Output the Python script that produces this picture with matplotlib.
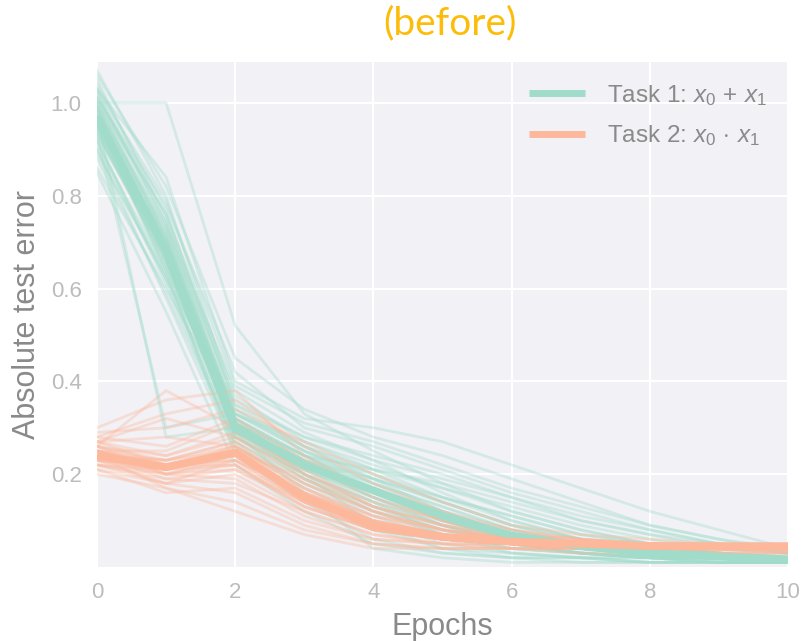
import matplotlib
matplotlib.use("Agg")
import matplotlib.pyplot as plt
import numpy as np

epochs = [0, 1, 2, 3, 4, 5, 6, 7, 8, 9, 10]

task1_runs = [
    [1.00, 1.00, 0.52, 0.33, 0.25, 0.18, 0.12, 0.08, 0.05, 0.04, 0.03],
    [1.07, 0.80, 0.35, 0.26, 0.19, 0.12, 0.07, 0.04, 0.03, 0.02, 0.02],
    [1.05, 0.75, 0.32, 0.24, 0.17, 0.10, 0.06, 0.04, 0.03, 0.02, 0.02],
    [1.03, 0.84, 0.40, 0.32, 0.30, 0.27, 0.22, 0.17, 0.12, 0.08, 0.04],
    [0.98, 0.70, 0.30, 0.22, 0.15, 0.09, 0.05, 0.03, 0.02, 0.02, 0.01],
    [0.95, 0.66, 0.28, 0.20, 0.13, 0.08, 0.05, 0.03, 0.02, 0.02, 0.01],
    [0.92, 0.62, 0.27, 0.18, 0.11, 0.06, 0.04, 0.03, 0.02, 0.01, 0.01],
    [0.90, 0.58, 0.25, 0.15, 0.08, 0.04, 0.03, 0.02, 0.02, 0.01, 0.01],
    [0.85, 0.55, 0.22, 0.12, 0.05, 0.03, 0.02, 0.02, 0.01, 0.01, 0.01],
    [0.86, 0.60, 0.33, 0.27, 0.22, 0.17, 0.12, 0.08, 0.05, 0.03, 0.02],
    [0.97, 0.28, 0.30, 0.22, 0.16, 0.11, 0.07, 0.04, 0.03, 0.02, 0.02],
    [0.93, 0.30, 0.33, 0.25, 0.19, 0.14, 0.09, 0.06, 0.04, 0.03, 0.02],
    [1.01, 0.78, 0.42, 0.30, 0.26, 0.21, 0.16, 0.12, 0.08, 0.05, 0.03],
    [0.99, 0.73, 0.36, 0.28, 0.24, 0.20, 0.15, 0.10, 0.07, 0.04, 0.03],
    [0.96, 0.71, 0.31, 0.23, 0.18, 0.13, 0.08, 0.05, 0.04, 0.03, 0.02],
    [0.94, 0.68, 0.29, 0.21, 0.14, 0.07, 0.03, 0.02, 0.02, 0.01, 0.01],
    [1.04, 0.77, 0.34, 0.25, 0.20, 0.15, 0.11, 0.07, 0.05, 0.03, 0.02],
    [0.91, 0.64, 0.31, 0.24, 0.21, 0.18, 0.14, 0.10, 0.07, 0.05, 0.03],
    [0.89, 0.63, 0.26, 0.17, 0.10, 0.05, 0.03, 0.02, 0.01, 0.01, 0.01],
    [0.97, 0.69, 0.30, 0.19, 0.12, 0.07, 0.04, 0.03, 0.02, 0.02, 0.02],
    [1.02, 0.74, 0.38, 0.29, 0.23, 0.16, 0.10, 0.06, 0.04, 0.03, 0.02],
    [0.95, 0.65, 0.29, 0.16, 0.04, 0.02, 0.01, 0.01, 0.01, 0.01, 0.01],
    [0.98, 0.72, 0.33, 0.26, 0.20, 0.14, 0.09, 0.05, 0.03, 0.02, 0.02],
    [0.93, 0.67, 0.31, 0.22, 0.17, 0.12, 0.07, 0.05, 0.03, 0.02, 0.02],
    [1.06, 0.82, 0.45, 0.34, 0.28, 0.24, 0.19, 0.14, 0.09, 0.06, 0.04],
    [0.88, 0.59, 0.27, 0.19, 0.13, 0.09, 0.06, 0.04, 0.03, 0.02, 0.01],
    [0.99, 0.71, 0.32, 0.20, 0.09, 0.04, 0.02, 0.02, 0.01, 0.01, 0.01],
    [0.96, 0.67, 0.28, 0.21, 0.15, 0.10, 0.06, 0.04, 0.03, 0.02, 0.02],
    [1.01, 0.76, 0.37, 0.27, 0.21, 0.17, 0.13, 0.09, 0.06, 0.04, 0.02],
    [0.94, 0.66, 0.30, 0.23, 0.19, 0.15, 0.11, 0.07, 0.05, 0.03, 0.02],
    [0.92, 0.61, 0.26, 0.18, 0.12, 0.08, 0.05, 0.03, 0.02, 0.02, 0.01],
    [1.00, 0.70, 0.29, 0.20, 0.14, 0.09, 0.06, 0.04, 0.03, 0.02, 0.02],
    [0.97, 0.64, 0.24, 0.14, 0.06, 0.03, 0.02, 0.01, 0.01, 0.01, 0.01],
    [1.03, 0.79, 0.39, 0.31, 0.27, 0.22, 0.17, 0.13, 0.09, 0.06, 0.03],
    [0.90, 0.62, 0.35, 0.28, 0.23, 0.19, 0.15, 0.11, 0.08, 0.05, 0.03],
    [0.95, 0.69, 0.32, 0.24, 0.16, 0.11, 0.07, 0.05, 0.03, 0.02, 0.02],
    [0.99, 0.69, 0.31, 0.23, 0.17, 0.11, 0.07, 0.04, 0.03, 0.02, 0.02],
    [0.97, 0.67, 0.29, 0.21, 0.16, 0.10, 0.06, 0.04, 0.03, 0.02, 0.01],
    [1.00, 0.72, 0.30, 0.22, 0.17, 0.12, 0.07, 0.05, 0.03, 0.02, 0.02],
    [0.96, 0.70, 0.32, 0.23, 0.16, 0.10, 0.06, 0.04, 0.02, 0.02, 0.01],
    [1.02, 0.73, 0.31, 0.24, 0.18, 0.12, 0.08, 0.05, 0.03, 0.02, 0.02],
    [0.98, 0.68, 0.29, 0.22, 0.15, 0.10, 0.06, 0.04, 0.03, 0.02, 0.02],
    [0.94, 0.65, 0.30, 0.21, 0.15, 0.09, 0.05, 0.03, 0.02, 0.02, 0.01],
    [1.01, 0.71, 0.33, 0.25, 0.18, 0.13, 0.08, 0.05, 0.04, 0.03, 0.02],
    [0.99, 0.66, 0.28, 0.20, 0.14, 0.09, 0.05, 0.03, 0.02, 0.01, 0.01],
    [0.95, 0.70, 0.30, 0.22, 0.17, 0.11, 0.07, 0.04, 0.03, 0.02, 0.02],
    [1.03, 0.74, 0.32, 0.24, 0.19, 0.14, 0.09, 0.06, 0.04, 0.03, 0.02],
    [0.97, 0.63, 0.28, 0.19, 0.12, 0.07, 0.04, 0.03, 0.02, 0.01, 0.01],
    [1.00, 0.76, 0.34, 0.26, 0.21, 0.15, 0.10, 0.06, 0.04, 0.03, 0.02],
    [0.93, 0.68, 0.31, 0.20, 0.13, 0.08, 0.05, 0.03, 0.02, 0.02, 0.01],
]

task2_runs = [
    [0.30, 0.36, 0.38, 0.24, 0.16, 0.10, 0.07, 0.05, 0.05, 0.04, 0.04],
    [0.28, 0.33, 0.36, 0.26, 0.18, 0.12, 0.08, 0.06, 0.05, 0.05, 0.04],
    [0.26, 0.38, 0.30, 0.20, 0.13, 0.09, 0.06, 0.05, 0.04, 0.04, 0.04],
    [0.25, 0.22, 0.25, 0.16, 0.10, 0.07, 0.05, 0.05, 0.04, 0.04, 0.04],
    [0.24, 0.21, 0.24, 0.15, 0.09, 0.06, 0.05, 0.04, 0.04, 0.04, 0.04],
    [0.23, 0.20, 0.22, 0.13, 0.08, 0.06, 0.05, 0.04, 0.04, 0.04, 0.04],
    [0.22, 0.18, 0.20, 0.12, 0.07, 0.05, 0.05, 0.04, 0.04, 0.04, 0.04],
    [0.21, 0.16, 0.17, 0.10, 0.06, 0.05, 0.04, 0.04, 0.04, 0.04, 0.03],
    [0.20, 0.17, 0.14, 0.08, 0.05, 0.04, 0.04, 0.04, 0.03, 0.03, 0.03],
    [0.27, 0.24, 0.28, 0.20, 0.14, 0.10, 0.07, 0.06, 0.05, 0.05, 0.05],
    [0.26, 0.23, 0.27, 0.18, 0.12, 0.08, 0.06, 0.05, 0.05, 0.04, 0.04],
    [0.25, 0.25, 0.31, 0.22, 0.15, 0.10, 0.07, 0.06, 0.05, 0.05, 0.04],
    [0.24, 0.19, 0.21, 0.14, 0.09, 0.06, 0.05, 0.05, 0.04, 0.04, 0.04],
    [0.23, 0.22, 0.23, 0.16, 0.11, 0.08, 0.06, 0.05, 0.05, 0.04, 0.04],
    [0.22, 0.20, 0.19, 0.11, 0.06, 0.05, 0.04, 0.04, 0.04, 0.04, 0.04],
    [0.29, 0.30, 0.34, 0.27, 0.20, 0.14, 0.09, 0.07, 0.06, 0.05, 0.05],
    [0.27, 0.28, 0.26, 0.17, 0.10, 0.07, 0.05, 0.05, 0.04, 0.04, 0.04],
    [0.24, 0.17, 0.12, 0.07, 0.04, 0.04, 0.04, 0.03, 0.03, 0.03, 0.03],
    [0.25, 0.23, 0.26, 0.18, 0.12, 0.08, 0.06, 0.05, 0.05, 0.04, 0.04],
    [0.23, 0.21, 0.24, 0.17, 0.11, 0.07, 0.06, 0.05, 0.04, 0.04, 0.04],
    [0.26, 0.24, 0.29, 0.21, 0.13, 0.09, 0.07, 0.06, 0.05, 0.05, 0.05],
    [0.21, 0.18, 0.16, 0.09, 0.05, 0.04, 0.04, 0.04, 0.03, 0.03, 0.03],
    [0.24, 0.22, 0.22, 0.14, 0.08, 0.06, 0.05, 0.05, 0.04, 0.04, 0.04],
    [0.28, 0.26, 0.32, 0.23, 0.16, 0.11, 0.08, 0.06, 0.05, 0.05, 0.05],
    [0.22, 0.19, 0.18, 0.12, 0.07, 0.05, 0.05, 0.04, 0.04, 0.04, 0.04],
    [0.25, 0.21, 0.25, 0.19, 0.13, 0.09, 0.06, 0.05, 0.05, 0.04, 0.04],
    [0.24, 0.23, 0.27, 0.15, 0.09, 0.06, 0.05, 0.04, 0.04, 0.04, 0.04],
    [0.26, 0.20, 0.21, 0.13, 0.08, 0.06, 0.05, 0.04, 0.04, 0.04, 0.04],
    [0.23, 0.18, 0.23, 0.16, 0.10, 0.07, 0.05, 0.05, 0.04, 0.04, 0.04],
    [0.27, 0.32, 0.28, 0.19, 0.12, 0.08, 0.06, 0.05, 0.05, 0.04, 0.04],
    [0.25, 0.22, 0.24, 0.15, 0.09, 0.06, 0.05, 0.05, 0.04, 0.04, 0.04],
    [0.24, 0.21, 0.25, 0.16, 0.10, 0.07, 0.06, 0.05, 0.05, 0.04, 0.04],
    [0.23, 0.22, 0.26, 0.15, 0.09, 0.07, 0.05, 0.05, 0.04, 0.04, 0.04],
    [0.25, 0.20, 0.23, 0.14, 0.08, 0.06, 0.05, 0.05, 0.04, 0.04, 0.04],
    [0.26, 0.22, 0.24, 0.15, 0.09, 0.06, 0.05, 0.04, 0.04, 0.04, 0.04],
    [0.24, 0.23, 0.25, 0.16, 0.10, 0.07, 0.06, 0.05, 0.05, 0.05, 0.05],
    [0.22, 0.21, 0.22, 0.13, 0.08, 0.06, 0.05, 0.04, 0.04, 0.04, 0.04],
    [0.25, 0.21, 0.26, 0.17, 0.11, 0.08, 0.06, 0.05, 0.05, 0.05, 0.05],
    [0.27, 0.22, 0.23, 0.14, 0.08, 0.06, 0.05, 0.05, 0.05, 0.04, 0.04],
    [0.24, 0.20, 0.24, 0.15, 0.09, 0.06, 0.05, 0.05, 0.04, 0.04, 0.04],
]

task1_mean = [0.97, 0.68, 0.30, 0.22, 0.165, 0.11, 0.068, 0.045, 0.03, 0.022, 0.017]
task2_mean = [0.24, 0.215, 0.247, 0.15, 0.09, 0.065, 0.055, 0.05, 0.045, 0.043, 0.042]

labels = [r"Task 1: $x_0 \,+\, x_1$", r"Task 2: $x_0 \,\cdot\, x_1$"]
xticks = [0, 2, 4, 6, 8, 10]
yticks = [0.2, 0.4, 0.6, 0.8, 1.0]

plt.rcParams['font.family'] = ['Liberation Sans', 'DejaVu Sans']
plt.rcParams['mathtext.fontset'] = 'custom'
plt.rcParams['mathtext.rm'] = 'Liberation Sans'
plt.rcParams['mathtext.it'] = 'Liberation Sans:italic'

teal = '#a0dcc9'
orange = '#fdb89c'

fig = plt.figure(figsize=(8.06, 6.41), dpi=100)
ax = fig.add_axes([0.1203, 0.1154, 0.8574, 0.7879])
ax.set_facecolor('#f1f1f6')
ax.grid(True, color='white', linewidth=1.6)
ax.set_axisbelow(True)
for s in ax.spines.values():
    s.set_visible(False)

for run in task1_runs:
    ax.plot(epochs, run, color=teal, alpha=0.35, linewidth=2)
for run in task2_runs:
    ax.plot(epochs, run, color=orange, alpha=0.35, linewidth=2)

ax.plot(epochs, task1_mean, color=teal, linewidth=5.5, label=labels[0], solid_capstyle='butt')
ax.plot(epochs, task2_mean, color=orange, linewidth=5.5, label=labels[1], solid_capstyle='butt')

ax.set_xlim(0, 10)
ax.set_ylim(0, 1.088)
ax.set_xticks(xticks)
ax.set_yticks(yticks)
ax.set_xticklabels([str(t) for t in xticks])
ax.set_yticklabels([f"{t:.1f}" for t in yticks])
ax.tick_params(length=0, labelsize=16, labelcolor='#bcbcbc', pad=11)

ax.set_xlabel("Epochs", fontsize=22, color='#8a8a8a', labelpad=6)
ax.set_ylabel("Absolute test error", fontsize=22, color='#8a8a8a', labelpad=6)

leg = ax.legend(loc='upper right', frameon=False, fontsize=17.5, handlelength=2.3,
                handletextpad=0.9, labelspacing=0.65, borderaxespad=0.45)
for t in leg.get_texts():
    t.set_color('#8a8a8a')
for h in leg.get_lines():
    h.set_linewidth(5)

fig.text(0.558, 0.964, "(before)", ha='center', va='center', fontsize=28,
         color='#fbbd0a', family=['Lato', 'DejaVu Sans'])

fig.savefig('out.png', dpi=100)
